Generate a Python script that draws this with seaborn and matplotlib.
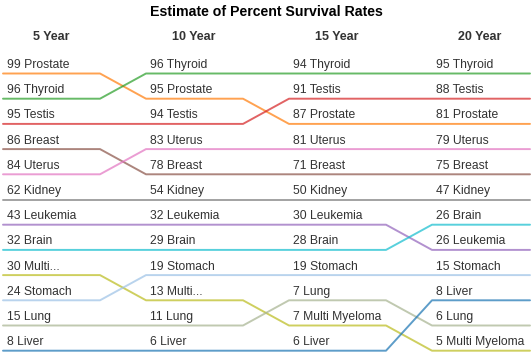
import matplotlib
matplotlib.use("Agg")
import matplotlib.pyplot as plt
import seaborn as sns
import pandas as pd

sns.set_theme(style="white")
plt.rcParams['font.family'] = ['Liberation Sans', 'DejaVu Sans']

title = "Estimate of Percent Survival Rates"
years = ["5 Year", "10 Year", "15 Year", "20 Year"]
cancers = ["Prostate", "Thyroid", "Testis", "Breast", "Uterus", "Kidney",
           "Leukemia", "Brain", "Multi Myeloma", "Stomach", "Lung", "Liver"]

# survival values per year (same order as cancers)
surv_5 = [99, 96, 95, 86, 84, 62, 43, 32, 30, 24, 15, 8]
surv_10 = [95, 96, 94, 78, 83, 54, 32, 29, 13, 19, 11, 6]
surv_15 = [87, 94, 91, 71, 81, 50, 30, 28, 7, 19, 7, 6]
surv_20 = [81, 95, 88, 75, 79, 47, 26, 26, 5, 15, 6, 8]

# displayed ordering (top to bottom) per year, ties as shown
order_5 = ["Prostate", "Thyroid", "Testis", "Breast", "Uterus", "Kidney",
           "Leukemia", "Brain", "Multi Myeloma", "Stomach", "Lung", "Liver"]
order_10 = ["Thyroid", "Prostate", "Testis", "Uterus", "Breast", "Kidney",
            "Leukemia", "Brain", "Stomach", "Multi Myeloma", "Lung", "Liver"]
order_15 = ["Thyroid", "Testis", "Prostate", "Uterus", "Breast", "Kidney",
            "Leukemia", "Brain", "Stomach", "Lung", "Multi Myeloma", "Liver"]
order_20 = ["Thyroid", "Testis", "Prostate", "Uterus", "Breast", "Kidney",
            "Brain", "Leukemia", "Stomach", "Liver", "Lung", "Multi Myeloma"]

# short names shown where the label is truncated
short_names = [{"Multi Myeloma": "Multi..."}, {"Multi Myeloma": "Multi..."}, {}, {}]

colors = ["#ff7f0e", "#2ca02c", "#d62728", "#8c564b", "#e377c2", "#7f7f7f",
          "#9467bd", "#17becf", "#bcbd22", "#9ec3e6", "#a8b492", "#1f77b4"]

values = [surv_5, surv_10, surv_15, surv_20]
orders = [order_5, order_10, order_15, order_20]

# layout (pixel-like data coordinates on x, rank on y)
col_start = [3, 146, 289, 432]
seg_len = 97

rows = []
for c in cancers:
    seq = 0
    for i in range(4):
        r = orders[i].index(c)
        for x in (col_start[i], col_start[i] + seg_len + (1 if i == 3 else 0)):
            rows.append({"cancer": c, "x": x, "rank": r, "seq": seq})
            seq += 1
df = pd.DataFrame(rows)

fig = plt.figure(figsize=(5.32, 3.55), dpi=100)
ax = fig.add_axes([0, 0, 1, 1])
palette = dict(zip(cancers, colors))
sns.lineplot(data=df, x="x", y="rank", hue="cancer", units="cancer",
             estimator=None, sort=False, palette=palette, linewidth=1.4,
             alpha=0.72, legend=False, ax=ax)

ax.set_xlim(0, 532)
# rank 0 line at pixel 73.5, spacing 25.2 px
ax.set_ylim((355 - 73.5) / 25.2, -73.5 / 25.2)
ax.axis("off")

for i in range(4):
    vals = dict(zip(cancers, values[i]))
    for r, c in enumerate(orders[i]):
        name = short_names[i].get(c, c)
        ax.text(col_start[i] + 4, r - 0.22, f"{vals[c]} {name}",
                fontsize=8.7, color="#333333", va="baseline", ha="left")
    ax.text(col_start[i] + 48, -1.45, years[i], fontsize=9, fontweight="bold",
            color="#333333", ha="center", va="center")

ax.text(266, -2.44, title, fontsize=10.2, fontweight="bold", color="black",
        ha="center", va="center")

fig.savefig("out.png", dpi=100)
